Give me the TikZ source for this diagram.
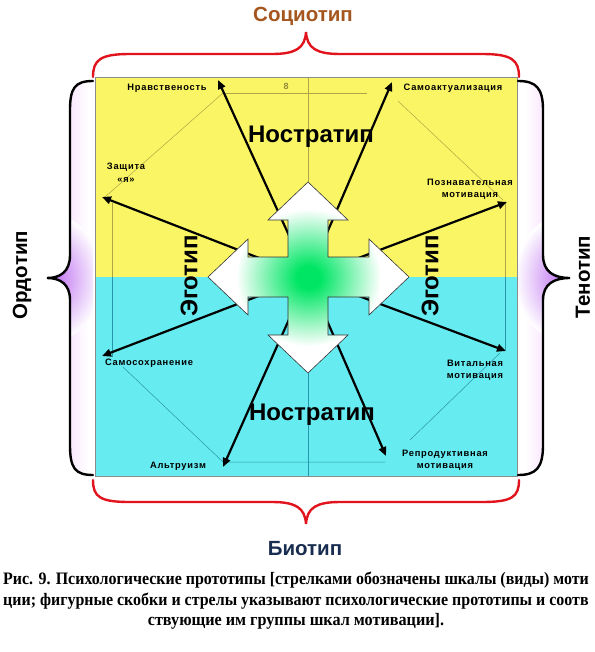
\documentclass[tikz,border=0pt]{standalone}
\usepackage{graphicx}
\usepackage{fontspec}
\setmainfont{Liberation Sans}
\newfontfamily\capfont{Liberation Serif}
\newfontfamily\lblfont{Liberation Sans}[LetterSpace=8]
\usetikzlibrary{arrows.meta,shadings}
\definecolor{ylw}{RGB}{250,245,100}
\definecolor{cyn}{RGB}{102,235,240}
\definecolor{olivel}{RGB}{175,165,70}
\definecolor{teall}{RGB}{40,150,170}
\definecolor{socio}{RGB}{165,85,30}
\definecolor{bio}{RGB}{25,45,80}
\definecolor{braceR}{RGB}{225,20,30}
\definecolor{glowc}{RGB}{185,100,240}
\definecolor{glowf}{RGB}{250,232,255}
\definecolor{xgreen}{RGB}{0,230,100}
\pgfdeclareradialshading{crossglow}{\pgfpoint{0bp}{0bp}}{color(0bp)=(xgreen); color(3bp)=(xgreen); color(18bp)=(white); color(50bp)=(white)}
\pgfdeclareradialshading{tipglow}{\pgfpoint{0bp}{0bp}}{color(0bp)=(glowc); color(8bp)=(glowc!70!white); color(25bp)=(white); color(50bp)=(white)}
\begin{document}
\begin{tikzpicture}[x=1pt,y=-1pt,
  lbl/.style={font=\lblfont\bfseries\fontsize{9.3}{12.5}\selectfont, align=center, inner sep=0pt},
  big/.style={font=\bfseries\fontsize{24}{24}\selectfont, inner sep=0pt},
  side/.style={font=\bfseries\fontsize{20.5}{20.5}\selectfont, inner sep=0pt},
  capt/.style={font=\capfont\bfseries\fontsize{17.5}{20}\selectfont, inner sep=0pt},
  motarrow/.style={line width=2.2pt, -{Triangle[length=9pt,width=7.5pt]}},
  radar/.style={line width=0.5pt},
  bracelink/.style={line width=2.4pt, line cap=round}]
\useasboundingbox (0,0) rectangle (594,652);
\clip (0,0) rectangle (594,652);
\fill[white] (0,0) rectangle (594,652);
% panels
\fill[ylw] (95,77) rectangle (517,277);
\fill[cyn] (95,277) rectangle (517,476);
% radar grid
\foreach \clipy/\col in {77/olivel, 277/teall}{
\begin{scope}
  \clip (95,\clipy) rectangle (517,\clipy+200);
  \draw[radar,\col] (223,93) -- (367,93);
  \draw[radar,\col] (398,101) -- (503,200);
  \draw[radar,\col] (505,203) -- (505,350);
  \draw[radar,\col] (500,353) -- (410,440);
  \draw[radar,\col] (385,462) -- (223,462) -- (123,367);
  \draw[radar,\col] (112,357) -- (112,203);
  \draw[radar,\col] (105,197) -- (223,93);
  \draw[radar,\col] (308,77) -- (308,476);
\end{scope}}
\draw[black!45, line width=0.5pt] (95,77) rectangle (517,476);
% arrows
\coordinate (c) at (308,277);
\coordinate (tNr) at (218,80);
\coordinate (tSa) at (392,82);
\coordinate (tZa) at (102,197);
\coordinate (tPo) at (507,202);
\coordinate (tSs) at (102,356);
\coordinate (tAl) at (223,467);
\coordinate (tVi) at (506,351);
\coordinate (tRe) at (386,456);
\foreach \t in {tNr,tSa,tZa,tPo,tSs,tAl,tVi,tRe} \draw[motarrow] (c) -- (\t);
% cross
\path[shading=crossglow, draw=black!80, line width=0.6pt]
 (308,182) -- (348,220) -- (328,220) -- (328,257) -- (369,257) -- (369,239) -- (409,277)
 -- (369,315) -- (369,297) -- (328,297) -- (328,335) -- (348,335) -- (308,373)
 -- (268,335) -- (288,335) -- (288,297) -- (248,297) -- (248,315) -- (208,277)
 -- (248,239) -- (248,257) -- (288,257) -- (288,220) -- (268,220) -- cycle;
% small labels
\node[lbl] (lNr) at (167,88) {Нравственость};
\node[inner sep=0pt, text=olivel!85!black, font=\bfseries\fontsize{9}{9}\selectfont] (l8) at (286,86) {8};
\node[lbl] (lSa) at (453,88) {Самоактуализация};
\node[lbl] (lZa) at (126,173) {Защита\\«я»};
\node[lbl] (lPo) at (470,189) {Познавательная\\мотивация};
\node[lbl] (lSs) at (149,363) {Самосохранение};
\node[lbl] (lAl) at (178,466) {Альтруизм};
\node[lbl] (lVi) at (475,370) {Витальная\\мотивация};
\node[lbl] (lRe) at (445,460) {Репродуктивная\\мотивация};
% big labels
\node[big] (nosT) at (311,137) {Ностратип};
\node[big] (nosB) at (312,415) {Ностратип};
\node[big, rotate=90] (egoL) at (189,276) {Эготип};
\node[big, rotate=90] (egoR) at (430,276) {Эготип};
% glow inside side braces
\begin{scope}
  \clip (93,81) .. controls (75,81) and (70,88) .. (70,110) -- (70,255) .. controls (70,272) and (60,278) .. (47,278) .. controls (60,278) and (70,284) .. (70,300) -- (70,445) .. controls (70,468) and (75,475) .. (93,475) -- cycle;
  \shade[left color=glowf, right color=white] (70,75) rectangle (88,480);
  \path[shading=tipglow] (47,278) ellipse [x radius=55, y radius=65];
\end{scope}
\begin{scope}
  \clip (518,81) .. controls (536,81) and (543,88) .. (543,110) -- (543,255) .. controls (543,272) and (554,278) .. (570,278) .. controls (554,278) and (543,284) .. (543,300) -- (543,445) .. controls (543,468) and (536,475) .. (518,475) -- cycle;
  \shade[left color=white, right color=glowf] (525,75) rectangle (543,480);
  \path[shading=tipglow] (570,278) ellipse [x radius=55, y radius=65];
\end{scope}
% braces
\draw[bracelink, braceR] (93,77) .. controls (93,60) and (100,54) .. (130,54) -- (272,54) .. controls (296,54) and (305,48) .. (306,32) .. controls (307,48) and (316,54) .. (340,54) -- (482,54) .. controls (512,54) and (519,60) .. (519,77);
\draw[bracelink, braceR] (93,480) .. controls (93,497) and (100,502) .. (130,502) -- (272,502) .. controls (296,502) and (305,508) .. (306,524) .. controls (307,508) and (316,502) .. (340,502) -- (482,502) .. controls (512,502) and (519,497) .. (519,480);
\draw[bracelink, black] (93,81) .. controls (75,81) and (70,88) .. (70,110) -- (70,255) .. controls (70,272) and (60,278) .. (47,278) .. controls (60,278) and (70,284) .. (70,300) -- (70,445) .. controls (70,468) and (75,475) .. (93,475);
\draw[bracelink, black] (518,81) .. controls (536,81) and (543,88) .. (543,110) -- (543,255) .. controls (543,272) and (554,278) .. (570,278) .. controls (554,278) and (543,284) .. (543,300) -- (543,445) .. controls (543,468) and (536,475) .. (518,475);
% side labels
\node[side, text=socio] (socio) at (303,16) {Социотип};
\node[side, text=bio] (bio) at (305,549) {Биотип};
\node[side, rotate=90] (ordo) at (22,275) {Ордотип};
\node[side, rotate=90] (teno) at (583,277) {Тенотип};
% caption
\node[capt, anchor=base west] (cap1) at (3,584) {\scalebox{0.912}[1]{Рис. 9. Психологические прототипы [стрелками обозначены шкалы (виды) моти}};
\node[capt, anchor=base west] (cap2) at (3,605) {\scalebox{0.912}[1]{ции; фигурные скобки и стрелы указывают психологические прототипы и соотв}};
\node[capt, anchor=base] (cap3) at (296,625) {\scalebox{0.925}[1]{ствующие им группы шкал мотивации].}};
\end{tikzpicture}
\end{document}
